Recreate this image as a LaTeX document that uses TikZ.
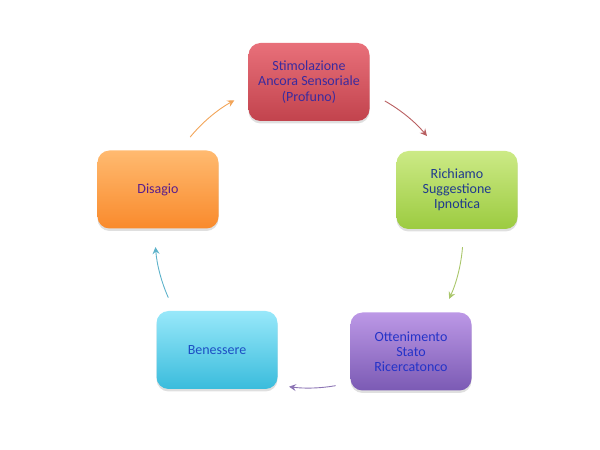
\documentclass[tikz,border=0pt]{standalone}
\usepackage{fontspec}
\setmainfont{Carlito}
\usetikzlibrary{arrows.meta,shadows}
\definecolor{txtA}{HTML}{3A2A9E}
\definecolor{txtB}{HTML}{1F3A8E}
\definecolor{txtC}{HTML}{2433C8}
\definecolor{txtD}{HTML}{1D4FC4}
\definecolor{txtE}{HTML}{5A1E8C}
\definecolor{redT}{HTML}{E8707A}\definecolor{redB}{HTML}{C2434D}
\definecolor{grnT}{HTML}{CCEA86}\definecolor{grnB}{HTML}{9CCB40}
\definecolor{purT}{HTML}{BC98E6}\definecolor{purB}{HTML}{7B5AB4}
\definecolor{cyaT}{HTML}{98E8FA}\definecolor{cyaB}{HTML}{3ABCDC}
\definecolor{oraT}{HTML}{FFBA70}\definecolor{oraB}{HTML}{F98A2C}
\definecolor{arR}{HTML}{B85E60}
\definecolor{arG}{HTML}{A9C66A}
\definecolor{arP}{HTML}{8C74B4}
\definecolor{arC}{HTML}{5DB2CA}
\definecolor{arO}{HTML}{F2A458}
\tikzset{
  cyclebox/.style={rounded corners=12pt, minimum width=121pt, minimum height=78pt,
    align=center, font=\fontsize{14}{15.2}\selectfont, inner sep=2pt,
    drop shadow={shadow xshift=0pt, shadow yshift=-2.5pt, opacity=0.25}},
  cyclearrow/.style={line width=0.9pt, -{Stealth[length=7pt,width=7pt,inset=2.5pt]}}
}
\begin{document}
\begin{tikzpicture}[x=1pt,y=1pt]
\useasboundingbox (0,0) rectangle (600,450);
\coordinate (ctr) at (309,215);
\node[cyclebox, top color=redT, bottom color=redB, text=txtA] (stim) at (309,368) {Stimolazione\\Ancora Sensoriale\\(Profuno)};
\node[cyclebox, top color=grnT, bottom color=grnB, text=txtB] (rich) at (457,260) {Richiamo\\Suggestione\\Ipnotica};
\node[cyclebox, top color=purT, bottom color=purB, text=txtC] (otten) at (411,98.5) {Ottenimento\\Stato\\Ricercatonco};
\node[cyclebox, top color=cyaT, bottom color=cyaB, text=txtD] (bene) at (217,100) {Benessere};
\node[cyclebox, top color=oraT, bottom color=oraB, text=txtE] (disa) at (158,260.5) {Disagio};
\draw[cyclearrow, arR] (ctr) ++(60.5:154) arc (60.5:40:154);
\draw[cyclearrow, arG] (ctr) ++(-4.5:154) arc (-4.5:-24.5:154);
\draw[cyclearrow, arP] (ctr) ++(-80:153) arc (-80:-97.5:153);
\draw[cyclearrow, arC] (ctr) ++(-156:154) arc (-156:-175.5:154);
\draw[cyclearrow, arO] (ctr) ++(140.5:154) arc (140.5:119:154);
\end{tikzpicture}
\end{document}
